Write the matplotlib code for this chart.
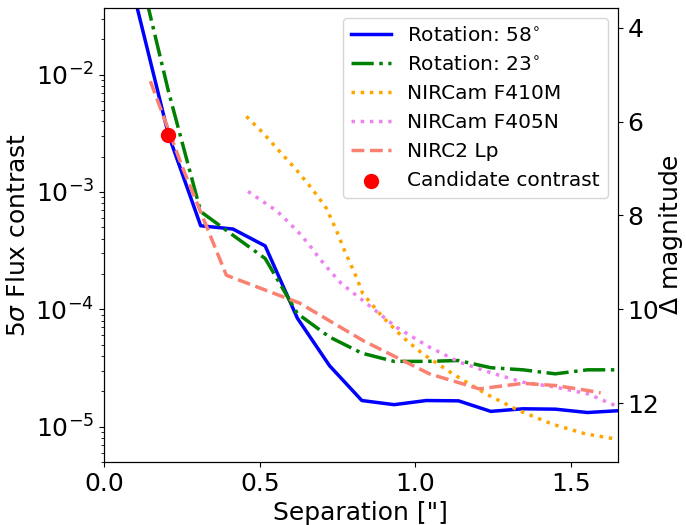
import numpy as np
import matplotlib
matplotlib.use('Agg')
import matplotlib.pyplot as plt

# separations ["] shared by the two rotation curves
sep_rot = [0.1035, 0.207, 0.3105, 0.414, 0.5175, 0.621, 0.7245, 0.828,
           0.9315, 1.035, 1.1385, 1.242, 1.3455, 1.449, 1.5525, 1.656]
rot58 = [4.0e-2, 3.07e-3, 5.15e-4, 4.83e-4, 3.47e-4, 8.4e-5, 3.3e-5, 1.67e-5,
         1.54e-5, 1.67e-5, 1.66e-5, 1.35e-5, 1.42e-5, 1.41e-5, 1.32e-5, 1.37e-5]
rot23 = [1.0e-1, 7.2e-3, 6.8e-4, 4.28e-4, 2.71e-4, 9.2e-5, 5.8e-5, 4.23e-5,
         3.6e-5, 3.6e-5, 3.66e-5, 3.18e-5, 3.05e-5, 2.82e-5, 3.05e-5, 3.05e-5]

sep_f410m = [0.457, 0.511, 0.564, 0.618, 0.671, 0.714, 0.746, 0.772, 0.810, 0.831,
             0.895, 0.959, 1.023, 1.120, 1.227, 1.333, 1.440, 1.547, 1.643]
f410m = [4.40e-3, 3.18e-3, 2.21e-3, 1.54e-3, 1.04e-3, 7.26e-4, 4.73e-4, 3.19e-4,
         1.89e-4, 1.36e-4, 8.59e-5, 5.80e-5, 4.18e-5, 2.82e-5, 1.90e-5, 1.37e-5,
         1.05e-5, 8.67e-6, 7.85e-6]

sep_f405n = [0.4625, 0.511, 0.554, 0.591, 0.628, 0.660, 0.692, 0.724, 0.762, 0.831,
             0.938, 1.045, 1.141, 1.246, 1.346, 1.451, 1.555, 1.643]
f405n = [1.01e-3, 8.26e-4, 6.92e-4, 5.57e-4, 4.43e-4, 3.52e-4, 2.71e-4, 2.15e-4,
         1.66e-4, 1.19e-4, 7.06e-5, 4.76e-5, 3.55e-5, 2.86e-5, 2.39e-5, 2.17e-5,
         1.90e-5, 1.51e-5]

sep_nirc2 = [0.149, 0.25, 0.393, 0.628, 0.831, 1.045, 1.205, 1.346, 1.451, 1.555, 1.595]
nirc2 = [8.77e-3, 1.67e-3, 1.95e-4, 1.13e-4, 5.43e-5, 2.82e-5, 2.10e-5, 2.34e-5,
         2.24e-5, 2.03e-5, 1.94e-5]

cand_sep = [0.205]
cand_contrast = [3.07e-3]

fs = 18
fig = plt.figure(figsize=(6.86, 5.25), dpi=100)
ax = fig.add_axes([0.1516, 0.12, 0.749, 0.865])

ax.plot(sep_rot, rot58, color='blue', lw=2.5, label=r'Rotation: 58$^{\circ}$')
ax.plot(sep_rot, rot23, color='green', lw=2.5, ls='-.', label=r'Rotation: 23$^{\circ}$')
ax.plot(sep_f410m, f410m, color='orange', lw=2.5, ls=':', label='NIRCam F410M')
ax.plot(sep_f405n, f405n, color='violet', lw=2.5, ls=':', label='NIRCam F405N')
ax.plot(sep_nirc2, nirc2, color='salmon', lw=2.5, ls='--', label='NIRC2 Lp')
ax.scatter(cand_sep, cand_contrast, color='red', s=100, zorder=5, label='Candidate contrast')

ax.set_yscale('log')
ylo, yhi = 5e-6, 0.037
ax.set_ylim(ylo, yhi)
ax.set_xlim(0, 1.65)
ax.set_xticks([0.0, 0.5, 1.0, 1.5])
ax.tick_params(labelsize=fs)
ax.set_xlabel('Separation ["]', fontsize=fs)
ax.set_ylabel(r'5$\sigma$ Flux contrast', fontsize=fs)
ax.legend(loc='upper right', fontsize=14.5)

# second axis in delta magnitude
ax2 = ax.twinx()
ax2.set_ylim(-2.5 * np.log10(ylo), -2.5 * np.log10(yhi))
ax2.set_yticks([4, 6, 8, 10, 12])
ax2.tick_params(labelsize=fs)
ax2.set_ylabel(r'$\Delta$ magnitude', fontsize=fs, labelpad=-2)

plt.savefig('out.png', dpi=100)
